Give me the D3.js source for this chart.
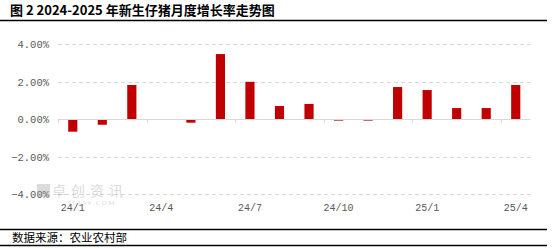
<!DOCTYPE html>
<html>
<head>
<meta charset="utf-8">
<script src="https://cdn.jsdelivr.net/npm/d3@7"></script>
<style>
  body { margin: 0; background: #fff; }
  svg { display: block; }
</style>
</head>
<body>
<div id="chart"></div>
<script>
// monthly growth rate of newborn piglets, %
const months = ["24/1","24/2","24/3","24/4","24/5","24/6","24/7","24/8","24/9","24/10","24/11","24/12","25/1","25/2","25/3","25/4"];
const growth = [-0.66, -0.29, 1.83, 0, -0.18, 3.48, 2.0, 0.71, 0.82, -0.07, -0.07, 1.72, 1.56, 0.6, 0.6, 1.83];
const yTicks = [-4, -2, 0, 2, 4];
const xLabels = ["24/1","24/4","24/7","24/10","25/1","25/4"];

const W = 552, H = 249;

const svg = d3.select("#chart").append("svg")
  .attr("width", W).attr("height", H);

// title + rules
svg.append("text")
  .attr("x", 10).attr("y", 15)
  .attr("font-family", "'Noto Sans CJK SC', sans-serif")
  .attr("font-weight", "bold")
  .attr("font-size", 13)
  .attr("fill", "#000")
  .text("图 2 2024-2025 年新生仔猪月度增长率走势图");

[20.5, 229.5, 245.5].forEach(yy => {
  svg.append("line").attr("x1", 0).attr("x2", 547).attr("y1", yy).attr("y2", yy)
    .attr("stroke", "#000").attr("stroke-width", 1.3);
});

svg.append("text")
  .attr("x", 12).attr("y", 242)
  .attr("font-family", "'Noto Sans CJK SC', sans-serif")
  .attr("font-size", 11.5)
  .attr("fill", "#000")
  .text("数据来源：农业农村部");

const x = d3.scaleBand()
  .domain(months)
  .range([58, 530.5])
  .paddingInner(0.69)
  .paddingOuter(0.345);

const y = d3.scaleLinear()
  .domain([-4, 4])
  .range([194.3, 44.3]);

const g = svg.append("g");

// grid lines
g.selectAll(".grid").data(yTicks.filter(d => d !== 0)).enter()
  .append("line")
  .attr("class", "grid")
  .attr("x1", 58).attr("x2", 530.5)
  .attr("y1", d => Math.round(y(d)) + 0.5)
  .attr("y2", d => Math.round(y(d)) + 0.5)
  .attr("stroke", "#d9d9d9")
  .attr("stroke-dasharray", "4,3");

// y labels
g.selectAll(".ylab").data(yTicks).enter()
  .append("text")
  .attr("x", 49)
  .attr("y", d => y(d) + 4)
  .attr("text-anchor", "end")
  .attr("font-family", "'Liberation Mono', monospace")
  .attr("font-size", 10.5)
  .attr("fill", "#595959")
  .text(d => d3.format(".2f")(d) + "%");

// watermark
const wm = svg.append("g").attr("opacity", 0.35);
wm.append("rect").attr("x", 37).attr("y", 184).attr("width", 13).attr("height", 13).attr("fill", "#999");
wm.append("text").attr("x", 52).attr("y", 196)
  .attr("font-family", "'Noto Sans CJK SC', sans-serif")
  .attr("font-size", 14).attr("fill", "#999")
  .attr("letter-spacing", 5)
  .text("卓创资讯");
wm.append("text").attr("x", 67).attr("y", 205)
  .attr("font-family", "'Liberation Serif', serif")
  .attr("font-size", 7).attr("fill", "#999")
  .attr("letter-spacing", 1.5)
  .text("SCI99.COM");

// bars
g.selectAll(".bar").data(growth).enter()
  .append("rect")
  .attr("class", "bar")
  .attr("x", (d, i) => x(months[i]))
  .attr("width", x.bandwidth())
  .attr("y", d => y(Math.max(0, d)))
  .attr("height", d => Math.abs(y(d) - y(0)))
  .attr("fill", "#c00000");

// zero axis with ticks every 3 months
const step = x.step();
const x0 = 58;
g.append("line")
  .attr("x1", x0).attr("x2", 530.5)
  .attr("y1", Math.round(y(0)) + 0.5).attr("y2", Math.round(y(0)) + 0.5)
  .attr("stroke", "#d9d9d9").attr("stroke-width", 1);

const tickIdx = [0, 3, 6, 9, 12, 15];
g.selectAll(".xtick").data(tickIdx).enter()
  .append("line")
  .attr("x1", i => Math.round(x0 + i * step) + 0.5)
  .attr("x2", i => Math.round(x0 + i * step) + 0.5)
  .attr("y1", Math.round(y(0)))
  .attr("y2", Math.round(y(0)) + 4)
  .attr("stroke", "#d9d9d9");

// x labels
g.selectAll(".xlab").data(xLabels).enter()
  .append("text")
  .attr("x", d => x(d) + x.bandwidth() / 2)
  .attr("y", 211)
  .attr("text-anchor", "middle")
  .attr("font-family", "'Liberation Mono', monospace")
  .attr("font-size", 10)
  .attr("fill", "#595959")
  .text(d => d);
</script>
</body>
</html>
